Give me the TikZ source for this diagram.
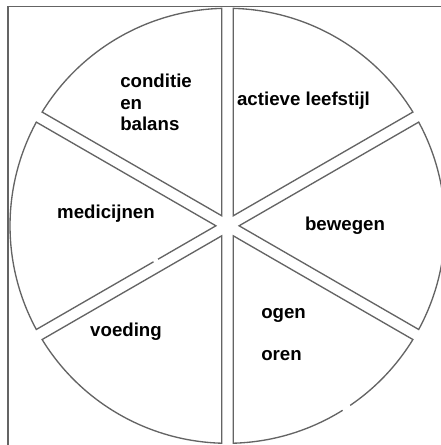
\documentclass[tikz,border=0pt]{standalone}
\usepackage{fontspec}
\setmainfont{Liberation Sans}
\usetikzlibrary{calc}
\definecolor{linegray}{RGB}{100,100,100}
\begin{document}
\begin{tikzpicture}[x=0.75pt,y=0.75pt,
  sector/.style={draw=linegray,line width=1pt,line join=miter},
  frameline/.style={draw=linegray,line width=1.1pt},
  gapmark/.style={draw=white,line width=2.5pt},
  lbl/.style={font=\fontsize{14}{16.5}\selectfont\bfseries,inner sep=0pt}]
\useasboundingbox (0,0) rectangle (441,445);
\fill[white] (0,0) rectangle (441,445);
\coordinate (C) at (227.5,219.2);
\def\R{217.5}
\def\dd{1.53}
\foreach \a in {30,90,150,210,270,330}{
  \draw[sector] ($(C)+(\a+30:11.6)$) -- ($(C)+(\a+\dd:\R)$)
    arc[start angle=\a+\dd, end angle=\a+60-\dd, radius=\R] -- cycle;
}
% small breaks in the reference lines
\draw[gapmark] ($(C)+(120:5.8)+(210:77)$) -- ($(C)+(120:5.8)+(210:82)$);
\draw[gapmark] ($(C)+(302:\R)$) arc[start angle=302, end angle=304.3, radius=\R];
% frame
\coordinate (FB) at (8,0);
\coordinate (FC) at (8,438.5);
\coordinate (FR) at (441,438.5);
\draw[frameline] (FB) -- (FC) -- (FR);
% labels
\node[lbl,anchor=base west] (cond) at (120,357) {conditie};
\node[lbl,anchor=base west] (en) at (120,335.5) {en};
\node[lbl,anchor=base west] (bal) at (120,314) {balans};
\node[lbl,anchor=base] (act) at (303.5,339) {actieve leefstijl};
\node[lbl,anchor=base] (med) at (106,226) {medicijnen};
\node[lbl,anchor=base] (bew) at (345,214) {bewegen};
\node[lbl,anchor=base] (voe) at (126,108) {voeding};
\node[lbl,anchor=base west] (oge) at (261,126) {ogen};
\node[lbl,anchor=base west] (ore) at (261,84) {oren};
\end{tikzpicture}
\end{document}
